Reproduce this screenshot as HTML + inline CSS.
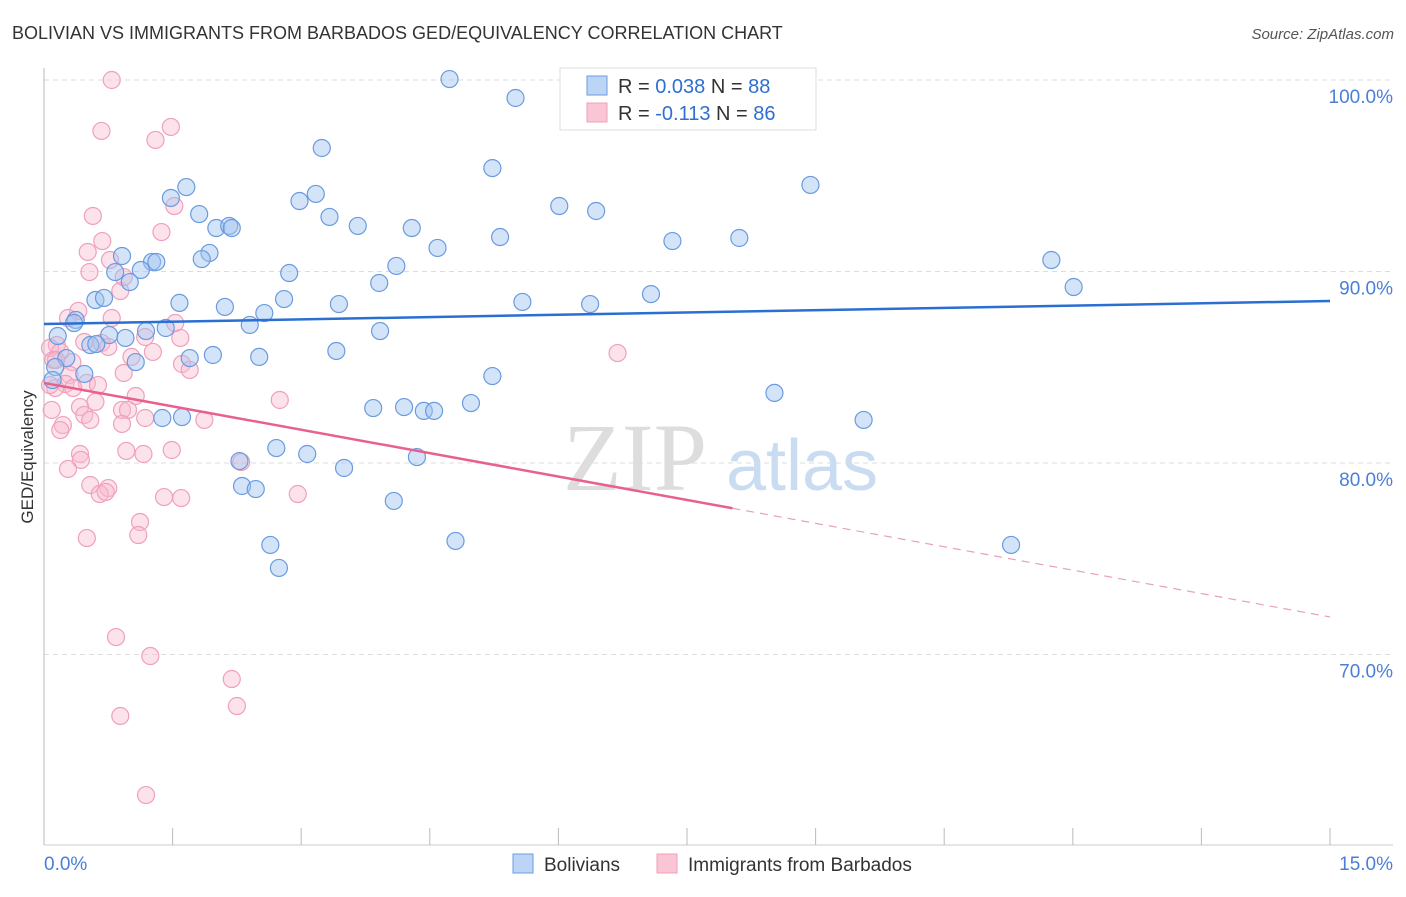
<!DOCTYPE html>
<html><head><meta charset="utf-8"><style>
body{margin:0;background:#fff;font-family:"Liberation Sans",sans-serif;}
svg text{font-family:"Liberation Sans",sans-serif;}
</style></head><body>
<svg id="chart" width="1406" height="892" xmlns="http://www.w3.org/2000/svg">
<text x="12" y="39" font-size="18" fill="#333">BOLIVIAN VS IMMIGRANTS FROM BARBADOS GED/EQUIVALENCY CORRELATION CHART</text>
<text x="1394" y="39" font-size="15" fill="#555" text-anchor="end" font-style="italic">Source: ZipAtlas.com</text>
<text transform="translate(33,457) rotate(-90)" font-size="17" fill="#333" text-anchor="middle">GED/Equivalency</text>
<g>
<text x="635" y="490" font-size="96" fill="#ddd" text-anchor="middle" font-family="Liberation Serif" style="font-family:'Liberation Serif',serif">ZIP</text>
<text x="802" y="490" font-size="72" fill="#c9dcf2" text-anchor="middle">atlas</text>
</g>
<g id="grid"></g><g id="axes"></g><g id="pts"></g><g id="trends"></g>
<g>
<rect x="560" y="68" width="256" height="62" fill="#fff" stroke="#ddd"/>
<rect x="587" y="76" width="20" height="19" fill="#bcd4f5" stroke="#6a9be0"/>
<text x="618" y="93" font-size="20" fill="#333">R = <tspan fill="#2f6fd0">0.038</tspan>   N = <tspan fill="#2f6fd0">88</tspan></text>
<rect x="587" y="103" width="20" height="19" fill="#fac6d6" stroke="#f0a0b8"/>
<text x="618" y="120" font-size="20" fill="#333">R = <tspan fill="#2f6fd0">-0.113</tspan>   N = <tspan fill="#2f6fd0">86</tspan></text>
</g>
<g>
<rect x="513" y="854" width="20" height="19" fill="#bcd4f5" stroke="#6a9be0"/>
<text x="544" y="871" font-size="19" fill="#333">Bolivians</text>
<rect x="657" y="854" width="20" height="19" fill="#fac6d6" stroke="#f0a0b8"/>
<text x="688" y="871" font-size="19" fill="#333">Immigrants from Barbados</text>
</g>
</svg>
<script>
const blueX=[4.73,5.50,3.24,5.23,8.94,1.66,1.48,3.17,2.98,6.01,6.44,1.81,3.33,2.01,3.66,2.16,2.19,4.29,5.32,7.33,8.11,1.93,4.59,0.91,1.84,1.26,1.31,11.75,0.83,1.13,2.86,4.11,1.00,3.91,12.01,0.60,0.70,1.58,2.11,2.80,3.44,5.58,6.37,7.08,2.57,0.37,2.40,0.35,0.16,3.92,1.19,1.42,0.76,0.95,0.54,0.61,3.41,1.97,2.51,1.70,1.07,0.26,0.13,0.47,5.23,8.52,4.98,3.84,4.20,4.43,4.55,1.38,1.61,9.56,2.71,3.07,2.28,3.50,4.35,2.31,2.47,4.08,2.64,4.80,2.74,11.28,0.10];
const blueY=[100.05,99.06,96.45,95.40,94.52,94.41,93.84,94.05,93.68,93.42,93.16,93.00,92.85,92.27,92.38,92.38,92.27,92.27,91.80,91.59,91.75,90.97,91.23,90.81,90.65,90.50,90.50,90.60,89.97,90.08,89.92,90.29,89.45,89.40,89.19,88.51,88.62,88.36,88.15,88.56,88.30,88.41,88.30,88.82,87.83,87.47,87.21,87.31,86.63,86.89,86.89,87.05,86.68,86.53,86.16,86.21,85.85,85.64,85.54,85.48,85.27,85.48,85.01,84.65,84.54,83.66,83.13,82.87,82.92,82.72,82.72,82.35,82.40,82.25,80.78,80.47,80.10,79.74,80.31,78.80,78.64,78.02,75.72,75.93,74.52,75.72,84.33];
const pinkX=[0.79,0.67,1.48,1.30,0.57,1.52,1.37,0.68,0.51,0.77,0.53,0.89,0.93,0.40,0.79,0.28,0.15,0.07,0.19,0.47,0.67,1.18,0.75,1.02,1.27,1.59,1.53,1.61,1.70,0.93,0.33,0.11,0.30,0.50,0.25,0.34,0.13,0.63,1.07,2.75,0.60,0.42,0.91,0.98,0.47,0.54,1.18,1.87,0.91,0.22,0.19,1.49,0.96,1.16,0.42,0.43,2.30,0.28,0.54,0.75,0.65,0.72,1.40,1.60,2.96,6.69,1.12,1.10,0.50,0.84,1.24,2.19,2.25,0.89,1.19,0.07,0.09,0.14];
const pinkY=[100,97.34,97.55,96.87,92.90,93.42,92.06,91.59,91.02,90.60,89.97,88.98,89.71,87.94,87.57,87.57,86.16,86.01,85.80,86.32,86.27,86.58,86.06,85.54,85.80,86.53,87.31,85.17,84.86,84.70,85.27,85.38,84.60,84.18,84.13,83.92,83.92,84.07,83.50,83.29,83.19,82.92,82.77,82.77,82.51,82.25,82.35,82.25,82.04,81.98,81.72,80.68,80.63,80.47,80.47,80.16,80.05,79.69,78.85,78.69,78.38,78.49,78.22,78.17,78.38,85.74,76.92,76.24,76.08,70.91,69.92,68.72,67.31,66.79,62.66,84.07,82.77,85.38];
const blueTrend=[87.26,88.46];
const pinkTrend=[84.18,71.96];
const pinkSolidEnd=8.03;
const yTicks=[100,90,80,70];
const yTickLabels=["100.0%","90.0%","80.0%","70.0%"];
const xTicks=[0,1.5,3,4.5,6,7.5,9,10.5,12,13.5,15];

const NS="http://www.w3.org/2000/svg";
const xs=v=>44+(v/15)*1286;
const ys=v=>80+(100-v)*19.15;
function mk(tag,attrs,parent){const e=document.createElementNS(NS,tag);for(const k in attrs)e.setAttribute(k,attrs[k]);document.getElementById(parent).appendChild(e);return e;}
yTicks.forEach((t,i)=>{
 const l=mk('line',{x1:44,x2:1393,y1:ys(t),y2:ys(t),stroke:'#ddd','stroke-dasharray':'5,4'},'grid');
 
 
 const tx=mk('text',{x:1393,y:ys(t)+23,'font-size':19,fill:'#4a7fd6','text-anchor':'end'},'grid');
 tx.textContent=yTickLabels[i];
 
 
});
const ax=mk('line',{x1:44,x2:44,y1:68,y2:845,stroke:'#bbb'},'axes');


const bx=mk('line',{x1:44,x2:1393,y1:845,y2:845,stroke:'#ccc'},'axes');


xTicks.slice(1).forEach(t=>{
 const l=mk('line',{x1:xs(t),x2:xs(t),y1:828,y2:845,stroke:'#bbb'},'axes');
 
 
});
const x0=mk('text',{x:44,y:870,'font-size':19,fill:'#4a7fd6'},'axes');x0.textContent='0.0%';


const x1=mk('text',{x:1393,y:870,'font-size':19,fill:'#4a7fd6','text-anchor':'end'},'axes');x1.textContent='15.0%';


function dots(X,Y,fill,stroke,name){X.forEach((x,i)=>{
 const c=mk('circle',{cx:xs(x),cy:ys(Y[i]),r:8.5,fill:fill,stroke:stroke,'stroke-width':1.2},'pts');
 
 
});}
dots(pinkX,pinkY,'rgba(248,185,205,0.4)','#f0a0bb','barbados-point');
dots(blueX,blueY,'rgba(160,195,240,0.45)','#6a9be0','bolivian-point');
const bl=mk('line',{x1:xs(0),y1:ys(blueTrend[0]),x2:xs(15),y2:ys(blueTrend[1]),stroke:'#2a6fd2','stroke-width':2.5},'trends');


const pm=pinkTrend[0]+(pinkTrend[1]-pinkTrend[0])*pinkSolidEnd/15;
const pl=mk('line',{x1:xs(0),y1:ys(pinkTrend[0]),x2:xs(pinkSolidEnd),y2:ys(pm),stroke:'#e8608c','stroke-width':2.5},'trends');


const pd=mk('line',{x1:xs(pinkSolidEnd),y1:ys(pm),x2:xs(15),y2:ys(pinkTrend[1]),stroke:'#e8a0b8','stroke-width':1.2,'stroke-dasharray':'8,6'},'trends');


</script>
</body></html>
